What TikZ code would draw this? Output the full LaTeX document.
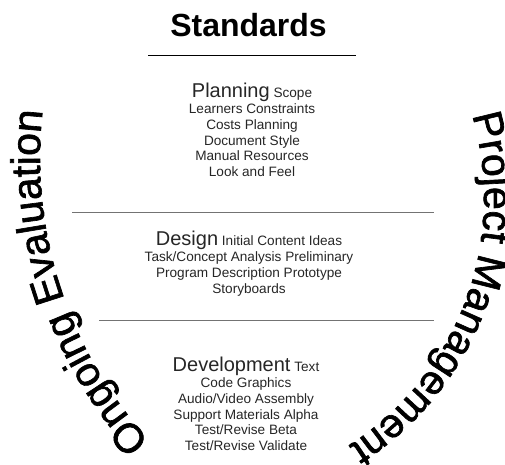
\documentclass[tikz,border=0pt]{standalone}
\usepackage{fontspec}
\setmainfont{Liberation Sans}
\newfontfamily\archfont[FakeBold=1.6]{Liberation Sans}
\usetikzlibrary{positioning, decorations.text}

\begin{document}
\begin{tikzpicture}[
        x = 1pt, y = 1pt,
        block/.style = {align=center, inner sep=0pt, anchor=north, text=black!85,
                        font=\fontsize{13.6}{15.6}\selectfont},
        rule/.style  = {draw=black!55, line width=0.9pt},
        arch/.style  = {decorate, decoration={text along path, text align=center,
                        text={|\archfont\fontsize{41}{41}\selectfont|#1}}}
    ]
    \newcommand\phase[1]{{\fontsize{20}{20}\selectfont #1}}
    \useasboundingbox (0,0) rectangle (505,464);

    \node[font=\bfseries\fontsize{32}{32}\selectfont, anchor=base] (std) at (248.5,427) {Standards};

    % rules between the phases
    \coordinate (r1w) at (148,408);  \coordinate (r1e) at (356,408);
    \coordinate (r2w) at (72,252);   \coordinate (r2e) at (434,252);
    \coordinate (r3w) at (99,144);   \coordinate (r3e) at (434,144);
    \draw[line width=1pt] (r1w) -- (r1e);
    \draw[rule] (r2w) -- (r2e);
    \draw[rule] (r3w) -- (r3e);

    \node[block] (plan) at (252,381.3) {\phase{Planning} Scope\\[1pt]
        Learners Constraints\\ Costs Planning\\ Document Style\\ Manual Resources\\ Look and Feel};
    \node[block] (des) at (249,233.3) {\phase{Design} Initial Content Ideas\\[1pt]
        Task/Concept Analysis Preliminary\\ Program Description Prototype\\ Storyboards};
    \node[block] (dev) at (246,107.3) {\phase{Development} Text\\[1pt]
        Code Graphics\\ Audio/Video Assembly\\ Support Materials Alpha\\ Test/Revise Beta\\ Test/Revise Validate};

    % arched side captions
    \coordinate (lc) at (459,306);
    \coordinate (rc) at (190,266);
    \path[arch=Ongoing Evaluation] ([shift={(232:419)}]lc) arc[start angle=232, end angle=164, radius=419];
    \path[arch=Project Management] ([shift={(25:294)}]rc) arc[start angle=25, end angle=-66, radius=294];

\end{tikzpicture}
\end{document}
